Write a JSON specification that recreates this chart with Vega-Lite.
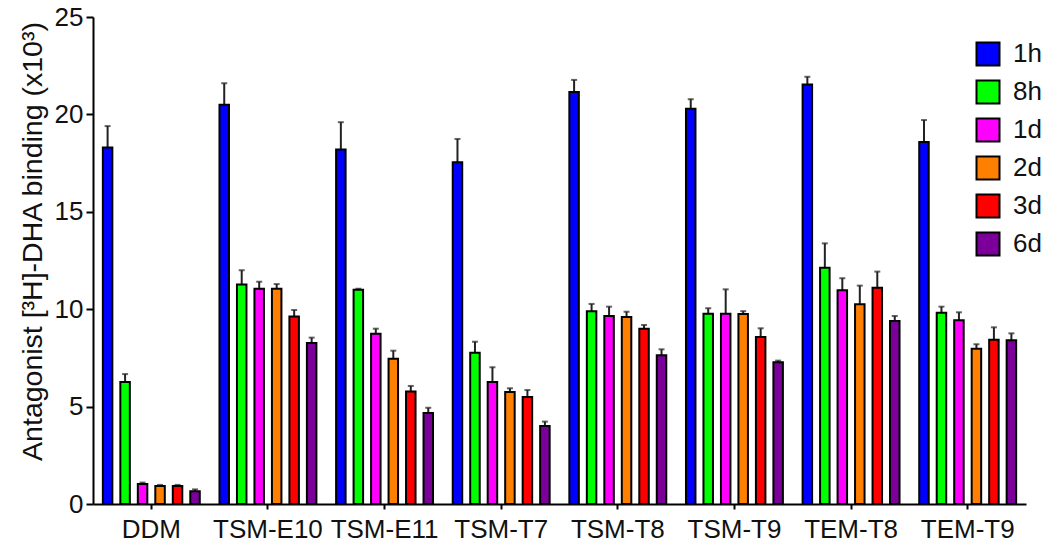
{
  "$schema": "https://vega.github.io/schema/vega-lite/v6.json",
  "width": 933,
  "height": 487,
  "autosize": {"type": "none"},
  "padding": {"left": 93, "top": 17, "right": 24, "bottom": 44},
  "background": "white",
  "config": {
    "view": {"stroke": null},
    "font": "Liberation Sans",
    "axis": {"labelColor": "#111", "titleColor": "#111", "grid": false}
  },
  "data": {
    "values": [
      {"group": "DDM", "time": "1h", "value": 18.3, "upper": 19.4},
      {"group": "DDM", "time": "8h", "value": 6.26, "upper": 6.67},
      {"group": "DDM", "time": "1d", "value": 1.03, "upper": 1.1},
      {"group": "DDM", "time": "2d", "value": 0.92, "upper": 0.98},
      {"group": "DDM", "time": "3d", "value": 0.92, "upper": 0.98},
      {"group": "DDM", "time": "6d", "value": 0.66, "upper": 0.75},
      {"group": "TSM-E10", "time": "1h", "value": 20.5, "upper": 21.6},
      {"group": "TSM-E10", "time": "8h", "value": 11.27, "upper": 12.0},
      {"group": "TSM-E10", "time": "1d", "value": 11.05, "upper": 11.41},
      {"group": "TSM-E10", "time": "2d", "value": 11.05, "upper": 11.29},
      {"group": "TSM-E10", "time": "3d", "value": 9.63, "upper": 9.96},
      {"group": "TSM-E10", "time": "6d", "value": 8.26, "upper": 8.54},
      {"group": "TSM-E11", "time": "1h", "value": 18.2, "upper": 19.6},
      {"group": "TSM-E11", "time": "8h", "value": 11.0, "upper": 11.05},
      {"group": "TSM-E11", "time": "1d", "value": 8.74, "upper": 9.0},
      {"group": "TSM-E11", "time": "2d", "value": 7.46, "upper": 7.87},
      {"group": "TSM-E11", "time": "3d", "value": 5.78, "upper": 6.06},
      {"group": "TSM-E11", "time": "6d", "value": 4.67, "upper": 4.94},
      {"group": "TSM-T7", "time": "1h", "value": 17.55, "upper": 18.74},
      {"group": "TSM-T7", "time": "8h", "value": 7.77, "upper": 8.33},
      {"group": "TSM-T7", "time": "1d", "value": 6.26, "upper": 7.02},
      {"group": "TSM-T7", "time": "2d", "value": 5.75, "upper": 5.94},
      {"group": "TSM-T7", "time": "3d", "value": 5.49, "upper": 5.85},
      {"group": "TSM-T7", "time": "6d", "value": 4.0, "upper": 4.23},
      {"group": "TSM-T8", "time": "1h", "value": 21.15, "upper": 21.77},
      {"group": "TSM-T8", "time": "8h", "value": 9.9, "upper": 10.27},
      {"group": "TSM-T8", "time": "1d", "value": 9.65, "upper": 10.13},
      {"group": "TSM-T8", "time": "2d", "value": 9.6, "upper": 9.87},
      {"group": "TSM-T8", "time": "3d", "value": 9.0, "upper": 9.19},
      {"group": "TSM-T8", "time": "6d", "value": 7.63, "upper": 7.94},
      {"group": "TSM-T9", "time": "1h", "value": 20.29, "upper": 20.78},
      {"group": "TSM-T9", "time": "8h", "value": 9.77, "upper": 10.05},
      {"group": "TSM-T9", "time": "1d", "value": 9.77, "upper": 11.02},
      {"group": "TSM-T9", "time": "2d", "value": 9.75, "upper": 9.9},
      {"group": "TSM-T9", "time": "3d", "value": 8.57, "upper": 9.02},
      {"group": "TSM-T9", "time": "6d", "value": 7.28, "upper": 7.36},
      {"group": "TEM-T8", "time": "1h", "value": 21.54, "upper": 21.93},
      {"group": "TEM-T8", "time": "8h", "value": 12.13, "upper": 13.38},
      {"group": "TEM-T8", "time": "1d", "value": 10.97, "upper": 11.59},
      {"group": "TEM-T8", "time": "2d", "value": 10.25, "upper": 11.21},
      {"group": "TEM-T8", "time": "3d", "value": 11.1, "upper": 11.93},
      {"group": "TEM-T8", "time": "6d", "value": 9.39, "upper": 9.65},
      {"group": "TEM-T9", "time": "1h", "value": 18.58, "upper": 19.71},
      {"group": "TEM-T9", "time": "8h", "value": 9.82, "upper": 10.13},
      {"group": "TEM-T9", "time": "1d", "value": 9.43, "upper": 9.84},
      {"group": "TEM-T9", "time": "2d", "value": 7.97, "upper": 8.2},
      {"group": "TEM-T9", "time": "3d", "value": 8.43, "upper": 9.07},
      {"group": "TEM-T9", "time": "6d", "value": 8.4, "upper": 8.76}
    ]
  },
  "encoding": {
    "x": {
      "field": "group",
      "type": "nominal",
      "sort": ["DDM", "TSM-E10", "TSM-E11", "TSM-T7", "TSM-T8", "TSM-T9", "TEM-T8", "TEM-T9"],
      "scale": {"paddingInner": 0.169, "paddingOuter": 0.0845},
      "axis": {
        "title": null,
        "labelAngle": 0,
        "labelFontSize": 26,
        "labelPadding": 7,
        "tickSize": 5,
        "tickWidth": 2,
        "tickColor": "black",
        "domainColor": "black",
        "domainWidth": 2
      }
    },
    "xOffset": {
      "field": "time",
      "type": "nominal",
      "sort": ["1h", "8h", "1d", "2d", "3d", "6d"],
      "scale": {"paddingInner": 0.457, "paddingOuter": 0}
    }
  },
  "layer": [
    {
      "mark": {"type": "rule", "stroke": "#222", "strokeWidth": 2},
      "encoding": {
        "y": {"field": "value", "type": "quantitative", "title": "Antagonist [³H]-DHA binding (x10³)"},
        "y2": {"field": "upper"}
      }
    },
    {
      "mark": {"type": "tick", "orient": "horizontal", "size": 6, "thickness": 2, "color": "#222"},
      "encoding": {
        "y": {"field": "upper", "type": "quantitative", "title": "Antagonist [³H]-DHA binding (x10³)"}
      }
    },
    {
      "mark": {"type": "bar", "stroke": "black", "strokeWidth": 2},
      "encoding": {
        "y": {
          "field": "value",
          "type": "quantitative",
          "title": "Antagonist [³H]-DHA binding (x10³)",
          "scale": {"domain": [0, 25], "nice": false},
          "axis": {
            "values": [0, 5, 10, 15, 20, 25],
            "labelFontSize": 26,
            "labelPadding": 3,
            "tickSize": 7,
            "tickWidth": 2,
            "tickColor": "black",
            "domainColor": "black",
            "domainWidth": 2,
            "titleFontSize": 28.5,
            "titleFontWeight": "normal",
            "titlePadding": 7,
            "titleY": 224
          }
        },
        "color": {
          "field": "time",
          "type": "nominal",
          "sort": ["1h", "8h", "1d", "2d", "3d", "6d"],
          "scale": {
            "domain": ["1h", "8h", "1d", "2d", "3d", "6d"],
            "range": ["#0000ff", "#00ff00", "#ff00ff", "#ff8000", "#ff0000", "#7a0099"]
          },
          "legend": {
            "title": null,
            "orient": "none",
            "legendX": 882,
            "legendY": 24,
            "symbolType": "square",
            "symbolSize": 529,
            "symbolStrokeColor": "black",
            "symbolStrokeWidth": 2,
            "symbolOpacity": 1,
            "labelFontSize": 26,
            "labelColor": "#111",
            "labelOffset": 12,
            "rowPadding": 6
          }
        }
      }
    }
  ]
}
